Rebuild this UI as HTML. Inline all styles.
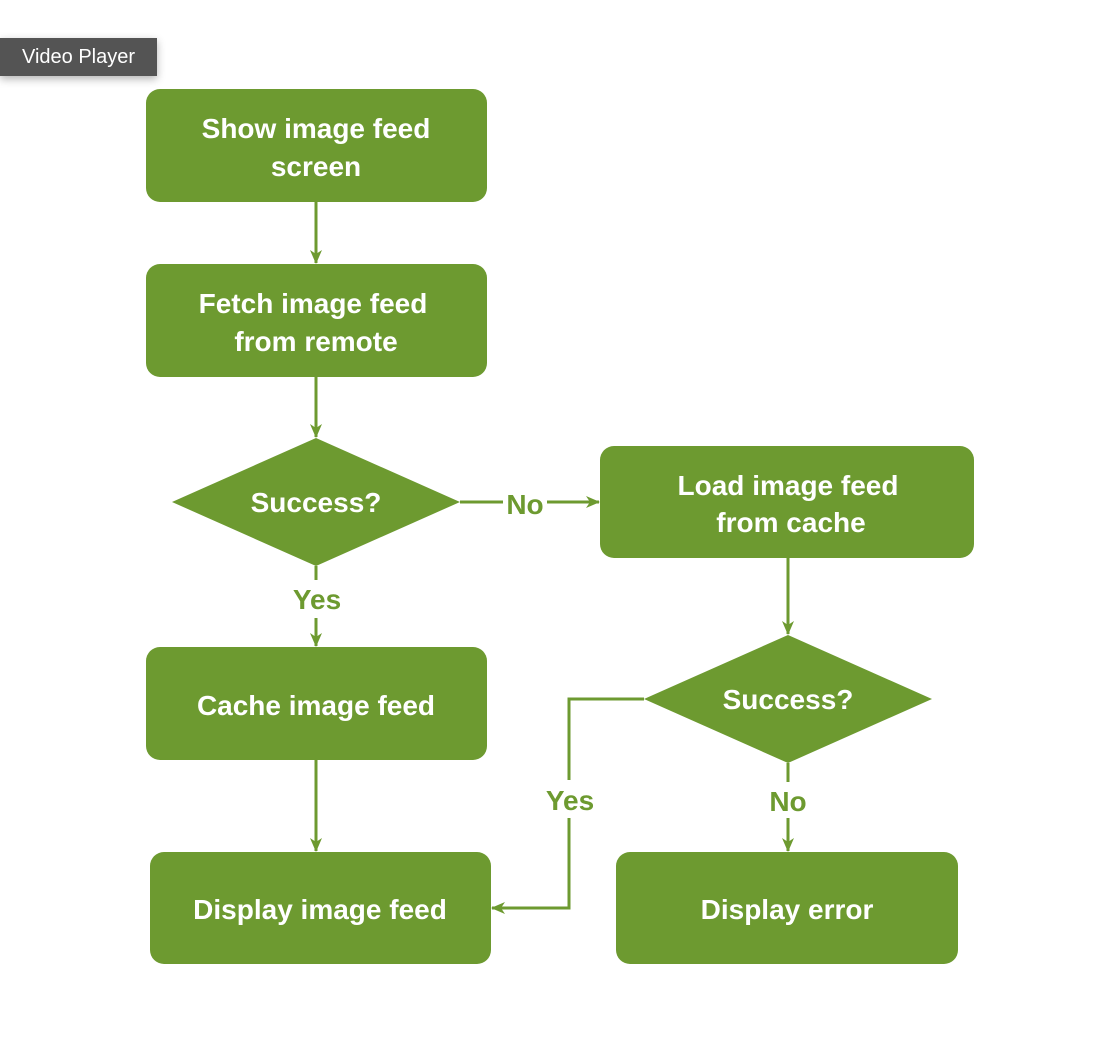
<!DOCTYPE html>
<html><head><meta charset="utf-8"><style>
html,body{margin:0;padding:0;background:#fff;}
body{width:1094px;height:1048px;position:relative;overflow:hidden;font-family:"Liberation Sans",sans-serif;}
.tip{position:absolute;left:0;top:38px;width:157px;height:38px;background:#545454;color:#fff;font-size:20px;line-height:38px;text-align:center;box-shadow:0 3px 8px rgba(0,0,0,.3);}
</style></head><body>
<svg width="1094" height="1048" style="position:absolute;left:0;top:0" font-family="Liberation Sans, sans-serif">
<defs><marker id="a" markerWidth="14" markerHeight="14" refX="13" refY="7" orient="auto" markerUnits="userSpaceOnUse"><path d="M0,1 L14,7 L0,13 L4,7 Z" fill="#6d9a30"/></marker></defs>
<g fill="#6d9a30">
<rect x="146" y="89" width="341" height="113" rx="14"/>
<rect x="146" y="264" width="341" height="113" rx="14"/>
<rect x="600" y="446" width="374" height="112" rx="14"/>
<rect x="146" y="647" width="341" height="113" rx="14"/>
<rect x="150" y="852" width="341" height="112" rx="14"/>
<rect x="616" y="852" width="342" height="112" rx="14"/>
<polygon points="172,502 316,438 460,502 316,566"/>
<polygon points="644,699 788,635 932,699 788,763"/>
</g>
<g stroke="#6d9a30" stroke-width="3" fill="none">
<line x1="316" y1="202" x2="316" y2="263" marker-end="url(#a)"/>
<line x1="316" y1="377" x2="316" y2="437" marker-end="url(#a)"/>
<line x1="460" y1="502" x2="503" y2="502"/>
<line x1="547" y1="502" x2="599" y2="502" marker-end="url(#a)"/>
<line x1="316" y1="566" x2="316" y2="580"/>
<line x1="316" y1="618" x2="316" y2="646" marker-end="url(#a)"/>
<line x1="316" y1="760" x2="316" y2="851" marker-end="url(#a)"/>
<line x1="788" y1="558" x2="788" y2="634" marker-end="url(#a)"/>
<line x1="788" y1="763" x2="788" y2="782"/>
<line x1="788" y1="818" x2="788" y2="851" marker-end="url(#a)"/>
<polyline points="644,699 569,699 569,780"/>
<polyline points="569,818 569,908 492,908" marker-end="url(#a)"/>
</g>
<g fill="#fff" font-size="28" font-weight="bold" text-anchor="middle">
<text x="316" y="138">Show image feed</text>
<text x="316" y="176">screen</text>
<text x="313" y="313">Fetch image feed</text>
<text x="316" y="351">from remote</text>
<text x="316" y="512">Success?</text>
<text x="788" y="495">Load image feed</text>
<text x="791" y="532">from cache</text>
<text x="788" y="709">Success?</text>
<text x="316" y="715">Cache image feed</text>
<text x="320" y="919">Display image feed</text>
<text x="787" y="919">Display error</text>
</g>
<g fill="#6d9a30" font-size="28" font-weight="bold" text-anchor="middle">
<text x="525" y="514">No</text>
<text x="317" y="609">Yes</text>
<text x="570" y="810">Yes</text>
<text x="788" y="811">No</text>
</g>
</svg>
<div class="tip">Video Player</div>
</body></html>
